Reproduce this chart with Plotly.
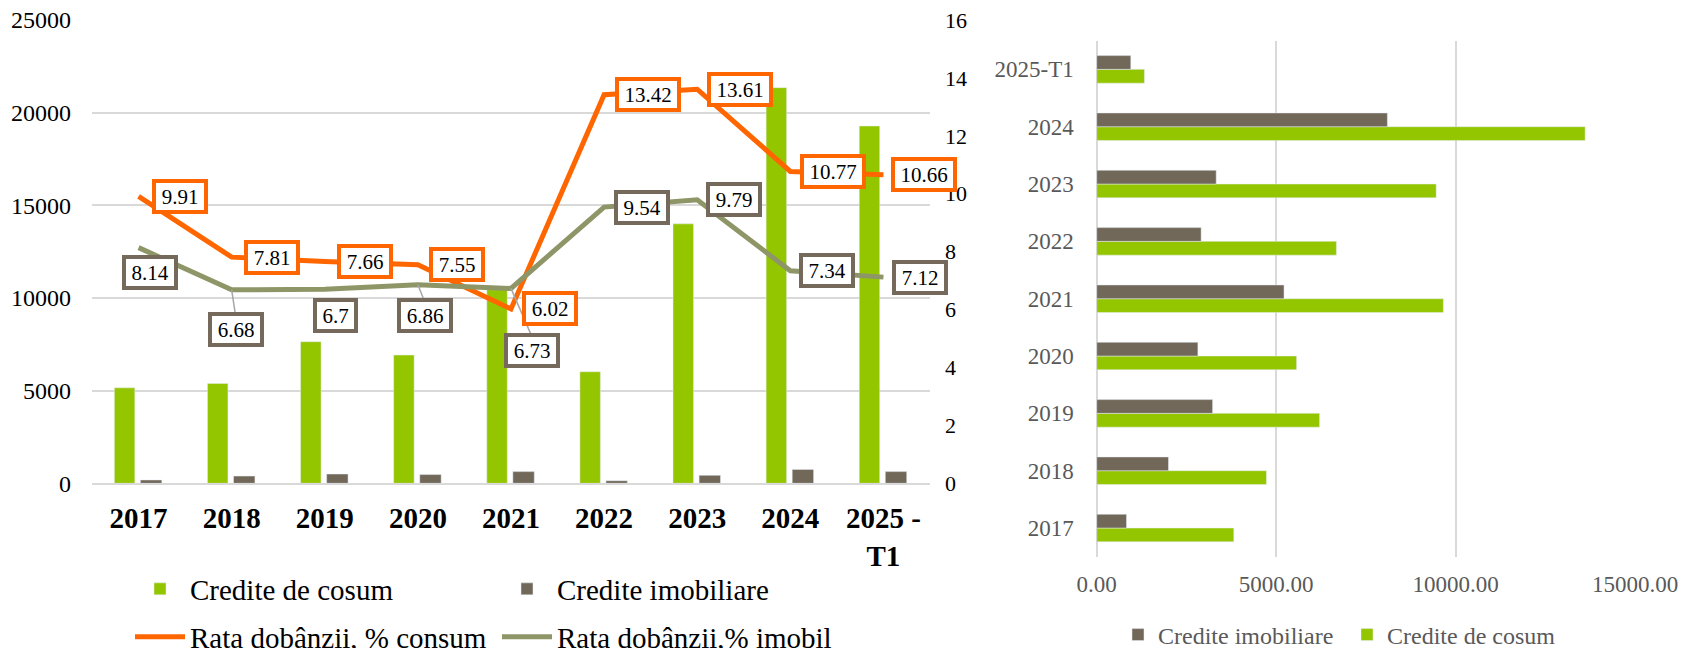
import plotly.graph_objects as go

# ---------------- data ----------------
years = ["2017", "2018", "2019", "2020", "2021", "2022", "2023", "2024", "2025 - T1"]
year_ticks = ["2017", "2018", "2019", "2020", "2021", "2022", "2023", "2024", "2025 -<br>T1"]
credite_consum = [5150, 5390, 7640, 6920, 10450, 6020, 14000, 21350, 19280]
credite_imob = [180, 390, 500, 470, 630, 140, 430, 750, 630]
rata_consum = [9.91, 7.81, 7.66, 7.55, 6.02, 13.42, 13.61, 10.77, 10.66]
rata_imob = [8.14, 6.68, 6.7, 6.86, 6.73, 9.54, 9.79, 7.34, 7.12]

h_years = ["2017", "2018", "2019", "2020", "2021", "2022", "2023", "2024", "2025-T1"]
h_imob = [830, 2000, 3230, 2820, 5220, 2910, 3330, 8100, 950]
h_consum = [3820, 4730, 6210, 5570, 9660, 6680, 9460, 13610, 1330]

# ---------------- style ----------------
PAGE_OFF = 8          # default body margin of the html page
W, H = 1688 - PAGE_OFF, 648 - PAGE_OFF
GREEN = "#94C600"
GREY = "#72685A"
ORANGE = "#FF6600"
OLIVE = "#8E9668"
LBL_GREY = "#74695B"
LEADER = "#A6A6A6"
GRID = "#D9D9D9"
FONT = "Liberation Serif"

# label box centre offsets (pixels, +x right, +y down) relative to the point
cons_off = [(41, 0), (40, 0), (40, 0), (39, 0), (39, 0), (44, 0), (43, 0), (43, 0), (41, 0)]
imob_off = [(11, 25), (4, 40), (11, 26), (7, 31), (21, 62), (38, 0), (37, 0), (37, 0), (37, 0)]
imob_leader = [False, True, False, True, True, False, False, False, False]
BOX_H = 27


def px_to_x(px):
    return (px - PAGE_OFF) / W


def px_to_y(py):
    return 1 - (py - PAGE_OFF) / H


fig = go.Figure()

fig.add_trace(go.Bar(x=years, y=credite_consum, name="Credite de cosum", marker_color=GREEN,
                     width=0.22, offset=-0.26, xaxis="x", yaxis="y", legend="legend"))
fig.add_trace(go.Bar(x=years, y=credite_imob, name="Credite imobiliare", marker_color=GREY,
                     width=0.23, offset=0.02, xaxis="x", yaxis="y", legend="legend"))
fig.add_trace(go.Scatter(x=years, y=rata_consum, name="Rata dobânzii, % consum", mode="lines",
                         line=dict(color=ORANGE, width=5), xaxis="x", yaxis="y2", legend="legend2"))
fig.add_trace(go.Scatter(x=years, y=rata_imob, name="Rata dobânzii,% imobil", mode="lines",
                         line=dict(color=OLIVE, width=5), xaxis="x", yaxis="y2", legend="legend2"))

fig.add_trace(go.Bar(y=h_years, x=h_consum, orientation="h", name="Credite de cosum", marker_color=GREEN,
                     width=0.24, offset=-0.24, xaxis="x2", yaxis="y3", legend="legend3", legendrank=2))
fig.add_trace(go.Bar(y=h_years, x=h_imob, orientation="h", name="Credite imobiliare", marker_color=GREY,
                     width=0.24, offset=0.0, xaxis="x2", yaxis="y3", legend="legend3", legendrank=1))


def lbl_width(t, fs=21):
    w = 0
    for c in t:
        w += 0.25 * fs if c == "." else 0.5 * fs
    return round(w + 11)


annotations = []
# leader lines (drawn first, boxes cover them)
for i, v in enumerate(rata_imob):
    if imob_leader[i]:
        annotations.append(dict(x=i, y=v, xref="x", yref="y2", text="", showarrow=True,
                                ax=imob_off[i][0], ay=imob_off[i][1] - BOX_H / 2,
                                arrowcolor=LEADER, arrowwidth=1.5, arrowhead=0,
                                standoff=0, startstandoff=0))


def box(i, v, off, color):
    t = str(v)
    return dict(x=i, y=v, xref="x", yref="y2", text=t, showarrow=False,
                xanchor="center", yanchor="middle", xshift=off[0], yshift=-off[1],
                bgcolor="white", bordercolor=color, borderwidth=4, borderpad=0,
                width=lbl_width(t), height=BOX_H,
                font=dict(family=FONT, size=21, color="black"))


for i, v in enumerate(rata_consum):
    annotations.append(box(i, v, cons_off[i], ORANGE))
for i, v in enumerate(rata_imob):
    annotations.append(box(i, v, imob_off[i], LBL_GREY))

fig.update_layout(
    width=W, height=H,
    margin=dict(l=0, r=0, t=0, b=0, autoexpand=False),
    paper_bgcolor="white", plot_bgcolor="white",
    font=dict(family=FONT, color="black"),
    barmode="overlay",
    xaxis=dict(domain=[px_to_x(92), px_to_x(930)], type="category", categoryorder="array",
               categoryarray=years, tickvals=years, ticktext=year_ticks, range=[-0.5, 8.5],
               tickfont=dict(family=FONT, size=29, color="black", weight="bold"),
               showgrid=False, showline=True, linecolor=GRID, linewidth=2, ticks="",
               ticklabelstandoff=8, ticklabeloverflow="allow", anchor="y", fixedrange=True),
    yaxis=dict(domain=[px_to_y(483.3), px_to_y(20)], range=[0, 25000], dtick=5000, tickformat="d",
               showgrid=True, gridcolor=GRID, gridwidth=1.5, zeroline=False,
               tickfont=dict(family=FONT, size=24, color="black"), ticklabelstandoff=20,
               ticklabeloverflow="allow", anchor="x"),
    yaxis2=dict(overlaying="y", side="right", range=[0, 16], dtick=2, showgrid=False,
                zeroline=False, tickfont=dict(family=FONT, size=22, color="black"),
                ticklabelstandoff=14, ticklabeloverflow="allow", anchor="x"),
    xaxis2=dict(domain=[px_to_x(1096.7), px_to_x(1635)], range=[0, 15000],
                tickvals=[0, 5000, 10000, 15000], tickformat=".2f",
                showgrid=True, gridcolor=GRID, gridwidth=1.5, zeroline=True, zerolinecolor=GRID,
                zerolinewidth=1.5, tickfont=dict(family=FONT, size=23, color="#595959"),
                ticklabelstandoff=11, ticklabeloverflow="allow", anchor="y3"),
    yaxis3=dict(domain=[px_to_y(556.7), px_to_y(40.7)], type="category", categoryorder="array",
                categoryarray=h_years, showgrid=False, ticks="",
                tickfont=dict(family=FONT, size=23, color="#595959"), ticklabelstandoff=22,
                ticklabeloverflow="allow", anchor="x2"),
    legend=dict(orientation="h", x=px_to_x(130), xanchor="left", y=px_to_y(589), yanchor="middle",
                font=dict(family=FONT, size=29, color="black"), itemwidth=50,
                entrywidth=302, entrywidthmode="pixels", bgcolor="rgba(0,0,0,0)"),
    legend2=dict(orientation="h", x=px_to_x(130), xanchor="left", y=px_to_y(637), yanchor="middle",
                 font=dict(family=FONT, size=29, color="black"), itemwidth=50,
                 entrywidth=302, entrywidthmode="pixels", bgcolor="rgba(0,0,0,0)"),
    legend3=dict(orientation="h", x=px_to_x(1118), xanchor="left", y=px_to_y(635), yanchor="middle",
                 font=dict(family=FONT, size=24, color="#595959"), itemwidth=30,
                 entrywidth=184, entrywidthmode="pixels", bgcolor="rgba(0,0,0,0)"),
    annotations=annotations,
)

fig.write_html("out.html")
